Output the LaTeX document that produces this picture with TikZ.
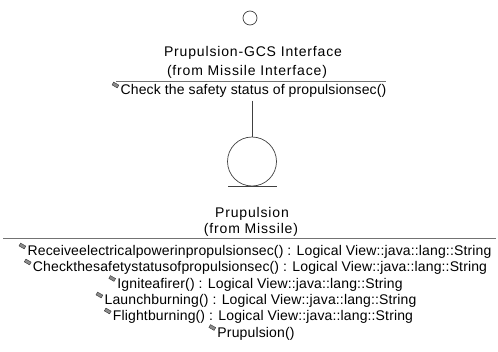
\documentclass[tikz,border=0pt]{standalone}
\usepackage{fontspec}
\setmainfont{Liberation Sans}
\begin{document}
\begin{tikzpicture}[x=1pt,y=-1pt,
  lbl/.style={inner sep=0pt,font=\fontsize{14}{16}\selectfont\addfontfeature{LetterSpace=6}},
  optext/.style={inner sep=0pt,anchor=center,font=\fontsize{14}{16}\selectfont\addfontfeature{LetterSpace=1}},
  sep/.style={draw=black!55,line width=0.8pt},
  outl/.style={draw=black!75,line width=0.7pt},
  opicon/.pic={\draw[fill=black!45,draw=black!80,line width=0.4pt,rotate=-30] (-3,-1.6) rectangle (3,1.6);}
]
\useasboundingbox (0,0) rectangle (498,351);
% interface
\node[outl,circle,minimum size=14pt,inner sep=0pt] (iface) at (250,18) {};
\node[lbl] (ifname) at (253,53) {Prupulsion-GCS Interface};
\node[lbl] (iffrom) at (247,72) {(from Missile Interface)};
\coordinate (ifl) at (116,81);
\coordinate (ifr) at (386,81);
\draw[sep] (ifl) -- (ifr);
\node[optext] (ifop) at (253.5,91) {Check the safety status of propulsionsec()};
\pic at ([xshift=-5pt,yshift=6pt]ifop.west) {opicon};
% class
\node[outl,circle,minimum size=49pt,inner sep=0pt] (cls) at (252,161.5) {};
\coordinate (ul) at (228,186);
\coordinate (ur) at (277,186);
\draw[outl] (ul) -- (ur);
\coordinate (cstart) at ([yshift=-3pt]cls.north |- ifop.south);
\draw[outl] (cstart) -- (cls.north);
\node[lbl] (clname) at (252,214) {Prupulsion};
\node[lbl] (clfrom) at (251,230) {(from Missile)};
\coordinate (cl) at (3,238);
\coordinate (cr) at (496,238);
\draw[sep] (cl) -- (cr);
\node[optext] (r1) at (259.5,252) {Receiveelectricalpowerinpropulsionsec() : Logical View::java::lang::String};
\node[optext] (r2) at (260,268) {Checkthesafetystatusofpropulsionsec() : Logical View::java::lang::String};
\node[optext] (r3) at (260,284.5) {Igniteafirer() : Logical View::java::lang::String};
\node[optext] (r4) at (260.5,301) {Launchburning() : Logical View::java::lang::String};
\node[optext] (r5) at (263,317) {Flightburning() : Logical View::java::lang::String};
\node[optext] (r6) at (256,333.5) {Prupulsion()};
\foreach \r in {r1,r2,r3,r4,r5,r6}
  \pic at ([xshift=-5pt,yshift=6pt]\r.west) {opicon};
\end{tikzpicture}
\end{document}
